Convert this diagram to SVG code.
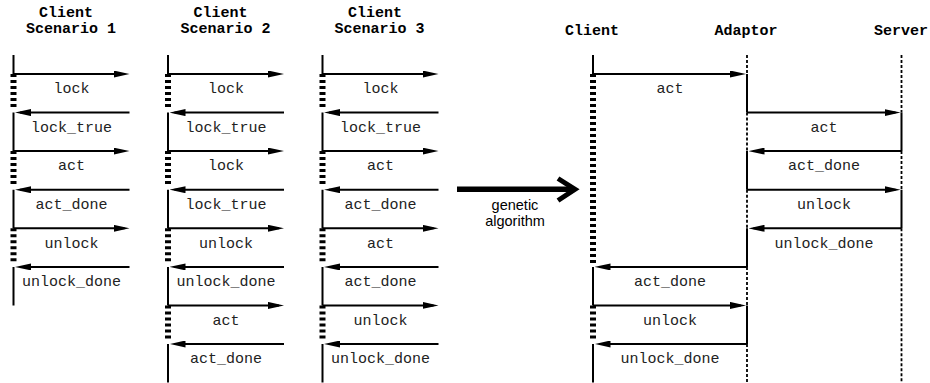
<svg xmlns="http://www.w3.org/2000/svg" width="930" height="383" viewBox="0 0 930 383">
<style>
.life{stroke:#000;stroke-width:2;fill:none}
.wait{stroke:#000;stroke-width:6;stroke-dasharray:3 3;fill:none}
.dot{stroke:#000;stroke-width:1.8;stroke-dasharray:3 2;fill:none}
.msg{stroke:#000;stroke-width:2;fill:none;marker-end:url(#ah)}
.lbl{font-family:"Liberation Mono","Courier New",monospace;font-size:15px;fill:#222;text-anchor:middle}
.hdr{font-family:"Liberation Mono","Courier New",monospace;font-size:15px;font-weight:bold;fill:#000;text-anchor:middle}
.ga{font-family:"Liberation Sans",Arial,sans-serif;font-size:14.5px;fill:#000;text-anchor:middle}
</style>
<defs>
<marker id="ah" markerWidth="16" markerHeight="7" refX="11" refY="3.5" orient="auto" markerUnits="userSpaceOnUse"><path d="M0,0 L16,3.5 L0,7 z" fill="#000"/></marker>
</defs>
<rect width="930" height="383" fill="#fff"/>

<g id="scenario1">
<text class="hdr" x="66" y="17">Client</text>
<text class="hdr" x="71" y="32.5">Scenario 1</text>
<path class="life" d="M13.5,55V74M13.5,112.6V151.1M13.5,189.7V228.3M13.5,266.9V305.4"/>
<path class="wait" d="M13.5,74V109.6M13.5,151.1V186.7M13.5,228.3V263.9"/>
</g>

<g id="scenario2">
<text class="hdr" x="220.5" y="17">Client</text>
<text class="hdr" x="225.5" y="32.5">Scenario 2</text>
<path class="life" d="M168,55V74M168,112.6V151.1M168,189.7V228.3M168,266.9V305.4M168,344V382.6"/>
<path class="wait" d="M168,74V109.6M168,151.1V186.7M168,228.3V263.9M168,305.4V341"/>
</g>

<g id="scenario3">
<text class="hdr" x="375" y="17">Client</text>
<text class="hdr" x="379.5" y="32.5">Scenario 3</text>
<path class="life" d="M322.5,55V74M322.5,112.6V151.1M322.5,189.7V228.3M322.5,266.9V305.4M322.5,344V382.6"/>
<path class="wait" d="M322.5,74V109.6M322.5,151.1V186.7M322.5,228.3V263.9M322.5,305.4V341"/>
</g>

<g id="transform">
<line x1="457" y1="189.3" x2="573" y2="189.3" stroke="#000" stroke-width="5.5"/>
<polyline points="558,178.5 575,189.3 558,200.5" fill="none" stroke="#000" stroke-width="5"/>
<text class="ga" x="515" y="210">genetic</text>
<text class="ga" x="515" y="226">algorithm</text>
</g>

<g id="client">
<text class="hdr" x="592" y="35">Client</text>
<path class="life" d="M593,55V74M593,266.9V305.4M593,344V382.6"/>
<path class="wait" d="M593,74V263.9M593,305.4V341"/>
</g>

<g id="adaptor">
<text class="hdr" x="746" y="35">Adaptor</text>
<path class="dot" d="M747,55V74M747,112.6V151.1M747,189.7V228.3M747,266.9V305.4M747,344V382.6"/>
<path class="life" d="M747,74V112.6M747,151.1V189.7M747,228.3V266.9M747,305.4V344"/>
</g>

<g id="server">
<text class="hdr" x="901" y="35">Server</text>
<path class="dot" d="M901.5,55V112.6M901.5,151.1V189.7M901.5,228.3V382.6"/>
<path class="life" d="M901.5,112.6V151.1M901.5,189.7V228.3"/>
</g>

<g id="connectors">
<line class="msg" x1="13.5" y1="74" x2="124.5" y2="74"/>
<line class="msg" x1="129.5" y1="112.6" x2="20" y2="112.6"/>
<line class="msg" x1="13.5" y1="151.1" x2="124.5" y2="151.1"/>
<line class="msg" x1="129.5" y1="189.7" x2="20" y2="189.7"/>
<line class="msg" x1="13.5" y1="228.3" x2="124.5" y2="228.3"/>
<line class="msg" x1="129.5" y1="266.9" x2="20" y2="266.9"/>

<line class="msg" x1="168" y1="74" x2="279" y2="74"/>
<line class="msg" x1="284" y1="112.6" x2="174.5" y2="112.6"/>
<line class="msg" x1="168" y1="151.1" x2="279" y2="151.1"/>
<line class="msg" x1="284" y1="189.7" x2="174.5" y2="189.7"/>
<line class="msg" x1="168" y1="228.3" x2="279" y2="228.3"/>
<line class="msg" x1="284" y1="266.9" x2="174.5" y2="266.9"/>
<line class="msg" x1="168" y1="305.4" x2="279" y2="305.4"/>
<line class="msg" x1="284" y1="344" x2="174.5" y2="344"/>

<line class="msg" x1="322.5" y1="74" x2="433.5" y2="74"/>
<line class="msg" x1="438.5" y1="112.6" x2="329" y2="112.6"/>
<line class="msg" x1="322.5" y1="151.1" x2="433.5" y2="151.1"/>
<line class="msg" x1="438.5" y1="189.7" x2="329" y2="189.7"/>
<line class="msg" x1="322.5" y1="228.3" x2="433.5" y2="228.3"/>
<line class="msg" x1="438.5" y1="266.9" x2="329" y2="266.9"/>
<line class="msg" x1="322.5" y1="305.4" x2="433.5" y2="305.4"/>
<line class="msg" x1="438.5" y1="344" x2="329" y2="344"/>

<line class="msg" x1="593" y1="74" x2="741" y2="74"/>
<line class="msg" x1="747" y1="112.6" x2="895.5" y2="112.6"/>
<line class="msg" x1="901.5" y1="151.1" x2="753.5" y2="151.1"/>
<line class="msg" x1="747" y1="189.7" x2="895.5" y2="189.7"/>
<line class="msg" x1="901.5" y1="228.3" x2="753.5" y2="228.3"/>
<line class="msg" x1="747" y1="266.9" x2="599.5" y2="266.9"/>
<line class="msg" x1="593" y1="305.4" x2="741" y2="305.4"/>
<line class="msg" x1="747" y1="344" x2="599.5" y2="344"/>

<text class="lbl" x="71.5" y="93.3">lock</text>
<text class="lbl" x="71.5" y="131.9">lock_true</text>
<text class="lbl" x="71.5" y="170.4">act</text>
<text class="lbl" x="71.5" y="209">act_done</text>
<text class="lbl" x="71.5" y="247.6">unlock</text>
<text class="lbl" x="71.5" y="286.2">unlock_done</text>

<text class="lbl" x="226" y="93.3">lock</text>
<text class="lbl" x="226" y="131.9">lock_true</text>
<text class="lbl" x="226" y="170.4">lock</text>
<text class="lbl" x="226" y="209">lock_true</text>
<text class="lbl" x="226" y="247.6">unlock</text>
<text class="lbl" x="226" y="286.2">unlock_done</text>
<text class="lbl" x="226" y="324.7">act</text>
<text class="lbl" x="226" y="363.3">act_done</text>

<text class="lbl" x="380.5" y="93.3">lock</text>
<text class="lbl" x="380.5" y="131.9">lock_true</text>
<text class="lbl" x="380.5" y="170.4">act</text>
<text class="lbl" x="380.5" y="209">act_done</text>
<text class="lbl" x="380.5" y="247.6">act</text>
<text class="lbl" x="380.5" y="286.2">act_done</text>
<text class="lbl" x="380.5" y="324.7">unlock</text>
<text class="lbl" x="380.5" y="363.3">unlock_done</text>

<text class="lbl" x="670" y="93.3">act</text>
<text class="lbl" x="824" y="131.9">act</text>
<text class="lbl" x="824" y="170.4">act_done</text>
<text class="lbl" x="824" y="209">unlock</text>
<text class="lbl" x="824" y="247.6">unlock_done</text>
<text class="lbl" x="670" y="286.2">act_done</text>
<text class="lbl" x="670" y="324.7">unlock</text>
<text class="lbl" x="670" y="363.3">unlock_done</text>
</g>
</svg>
